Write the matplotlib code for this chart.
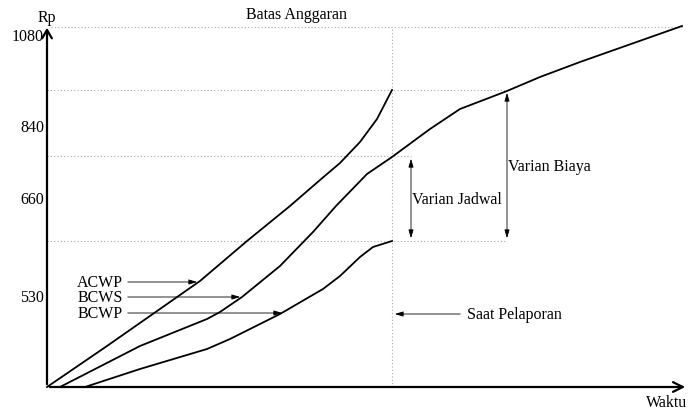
import matplotlib
matplotlib.use("Agg")
import matplotlib.pyplot as plt

plt.rcParams['font.family'] = ['Liberation Serif', 'DejaVu Serif']

# schematic curve points (time, cost position)
acwp_t = [0, 60, 153, 200, 243, 273, 293, 313, 330, 345]
acwp_v = [0, 41, 106, 146, 181, 207, 224, 245, 268, 297]

bcws_t = [13, 93, 160, 173, 195, 233, 266, 289, 320, 345, 383, 413, 460, 493, 533, 635]
bcws_v = [0, 41, 68, 75, 90, 121, 155, 181, 213, 230, 258, 278, 296, 310, 325, 361]

bcwp_t = [38, 93, 160, 183, 233, 276, 293, 313, 326, 345]
bcwp_v = [0, 18, 38, 48, 73, 98, 111, 130, 140, 146]

tick_pos = [351, 260, 188, 90]
tick_lab = ["1080", "840", "660", "530"]

t_report = 345
v_budget = 360
v_acwp_end = 297
v_bcws_end = 231
v_bcwp_end = 146

fs = 11.5

fig = plt.figure(figsize=(6.88, 4.10), dpi=100)
ax = fig.add_axes([0, 0, 1, 1])
ax.set_xlim(-47, 641)
ax.set_ylim(-22, 388)
ax.axis('off')

# axes with arrows
ax.annotate("", xy=(0, 362), xytext=(0, 0),
            arrowprops=dict(arrowstyle="->,head_length=0.6,head_width=0.35", lw=1.6, color="black"))
ax.annotate("", xy=(641, 0), xytext=(0, 0),
            arrowprops=dict(arrowstyle="->,head_length=0.7,head_width=0.35", lw=1.6, color="black"))

# dotted reference lines
dot = dict(color="#aaaaaa", linestyle=(0, (1, 2)), lw=0.8)
ax.plot([4, 635], [v_budget, v_budget], **dot)
ax.plot([0, 460], [v_acwp_end, v_acwp_end], **dot)
ax.plot([0, 364], [v_bcws_end, v_bcws_end], **dot)
ax.plot([0, 460], [v_bcwp_end, v_bcwp_end], **dot)
ax.plot([t_report, t_report], [0, v_budget], **dot)

# curves
ax.plot(acwp_t, acwp_v, color="black", lw=1.3)
ax.plot(bcws_t, bcws_v, color="black", lw=1.3)
ax.plot(bcwp_t, bcwp_v, color="black", lw=1.3)

# y tick labels
for p, lab in zip(tick_pos, tick_lab):
    ax.text(-3, p, lab, ha="right", va="center", fontsize=fs)

ax.text(0, 370, "Rp", ha="center", va="center", fontsize=fs)
ax.text(599, -15, "Waktu", ha="left", va="center", fontsize=fs)
ax.text(250, 373, "Batas Anggaran", ha="center", va="center", fontsize=fs)

# curve labels with pointer arrows
thin = dict(arrowstyle="-|>,head_length=0.5,head_width=0.15", lw=0.6, color="black")
for name, v, tip in [("ACWP", 105, 153), ("BCWS", 90, 196), ("BCWP", 74, 238)]:
    ax.text(76, v, name, ha="right", va="center", fontsize=fs)
    ax.annotate("", xy=(tip, v), xytext=(78, v), arrowprops=thin)

ax.annotate("", xy=(t_report, 73), xytext=(416, 73), arrowprops=thin)
ax.text(420, 73, "Saat Pelaporan", ha="left", va="center", fontsize=fs)

dbl = dict(arrowstyle="<|-|>,head_length=0.5,head_width=0.15", lw=0.6, color="black")
ax.annotate("", xy=(364, v_bcws_end), xytext=(364, v_bcwp_end), arrowprops=dbl)
ax.text(365, 188, "Varian Jadwal", ha="left", va="center", fontsize=fs)
ax.annotate("", xy=(460, v_acwp_end), xytext=(460, v_bcwp_end), arrowprops=dbl)
ax.text(461, 221, "Varian Biaya", ha="left", va="center", fontsize=fs)

fig.savefig("out.png", dpi=100)
